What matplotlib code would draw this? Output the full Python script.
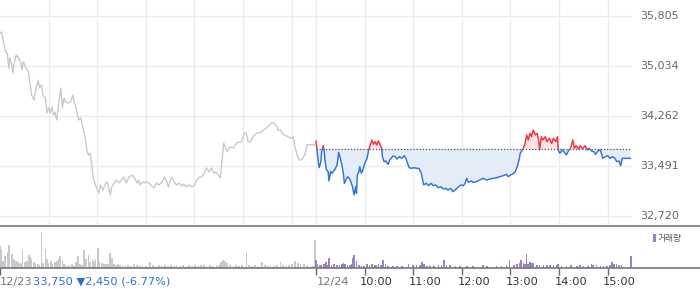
import matplotlib
matplotlib.use('Agg')
import matplotlib.pyplot as plt
import matplotlib.transforms as mtransforms
from matplotlib.lines import Line2D
from matplotlib.patches import Rectangle
import numpy as np

# ---------------- data ----------------
session_len = 390          # minutes 09:00-15:30
ref_price = 33750          # previous close (12/23)

prev_minutes = [0, 2, 5, 7, 9, 11, 12, 14, 16, 17, 20, 23, 26, 27, 29, 32, 35, 37, 39, 42,
                44, 47, 49, 51, 53, 56, 58, 60, 62, 64, 66, 68, 70, 72, 75, 77, 79, 81, 84, 87,
                90, 91, 94, 97, 100, 102, 105, 107, 109, 111, 113, 115, 117, 119, 122, 124, 127, 131, 133, 136,
                138, 141, 144, 147, 150, 153, 156, 159, 163, 166, 169, 171, 173, 176, 179, 181, 184, 187, 190, 193,
                196, 200, 203, 206, 208, 210, 212, 215, 218, 221, 224, 227, 230, 233, 237, 240, 243, 246, 249, 252,
                255, 258, 261, 264, 267, 272, 274, 276, 280, 284, 288, 292, 296, 298, 300, 302, 304, 306, 309, 313,
                317, 319, 321, 325, 329, 331, 333, 335, 338, 342, 343, 346, 348, 350, 354, 358, 360, 362, 364, 366,
                368, 370, 372, 374, 376, 379, 385, 389]
prev_prices = [35542, 35557, 35356, 35253, 35227, 34996, 35155, 35078, 34923, 35047, 35202, 35155, 35078, 34970, 35098, 35001, 34944, 34769, 34583, 34506,
               34661, 34810, 34692, 34738, 34583, 34537, 34305, 34382, 34305, 34398, 34274, 34320, 34197, 34403, 34692, 34382, 34537, 34475, 34460, 34475,
               34583, 34506, 34382, 34197, 34228, 34089, 33934, 33733, 33656, 33687, 33532, 33316, 33223, 33145, 33068, 33192, 33114, 33238, 33223, 33037,
               33161, 33223, 33269, 33223, 33269, 33316, 33223, 33316, 33346, 33300, 33223, 33269, 33192, 33238, 33223, 33238, 33223, 33176, 33145, 33223,
               33192, 33238, 33316, 33238, 33161, 33269, 33316, 33238, 33192, 33223, 33176, 33207, 33161, 33192, 33161, 33192, 33269, 33316, 33316, 33377,
               33455, 33393, 33455, 33377, 33393, 33300, 33578, 33841, 33710, 33779, 33764, 33841, 33857, 33862, 33934, 33996, 33996, 33862, 33857, 33950,
               33996, 33996, 33996, 34042, 34073, 34104, 34120, 34150, 34150, 34089, 34042, 34042, 33996, 33965, 33950, 33919, 33919, 33934, 33790, 33687,
               33609, 33578, 33578, 33625, 33650, 33815, 33815, 33810]

today_minutes = [0, 2, 3, 4, 6, 7, 9, 10, 11, 13, 15, 16, 18, 20, 21, 23, 26, 28, 30, 32,
                 34, 35, 37, 39, 41, 43, 45, 47, 49, 50, 51, 53, 54, 56, 58, 59, 61, 63, 65, 67,
                 69, 71, 73, 75, 77, 79, 81, 82, 84, 86, 89, 91, 95, 98, 100, 103, 106, 109, 111, 113,
                 115, 118, 121, 124, 127, 130, 132, 133, 136, 139, 142, 145, 148, 151, 154, 157, 160, 163, 166, 169,
                 173, 176, 179, 182, 184, 186, 188, 192, 194, 198, 202, 206, 211, 215, 219, 223, 227, 231, 235, 237,
                 240, 244, 246, 249, 251, 252, 254, 256, 258, 260, 262, 264, 266, 268, 271, 273, 275, 276, 278, 280,
                 283, 285, 288, 291, 293, 296, 298, 299, 301, 304, 306, 309, 312, 314, 317, 319, 321, 324, 326, 329,
                 332, 335, 337, 340, 343, 345, 348, 351, 354, 357, 360, 363, 366, 369, 371, 374, 376, 378, 381, 388]
today_prices = [33870, 33640, 33532, 33460, 33552, 33707, 33800, 33733, 33578, 33424, 33398, 33254, 33398, 33372, 33398, 33424, 33501, 33697, 33604, 33501,
                33346, 33218, 33269, 33321, 33295, 33243, 33166, 33037, 33166, 33063, 33346, 33398, 33475, 33372, 33424, 33475, 33552, 33604, 33733, 33810,
                33888, 33821, 33862, 33810, 33872, 33821, 33759, 33630, 33552, 33563, 33512, 33578, 33640, 33630, 33594, 33630, 33604, 33645, 33604, 33527,
                33460, 33450, 33460, 33450, 33450, 33372, 33243, 33192, 33218, 33182, 33218, 33182, 33192, 33150, 33166, 33130, 33140, 33114, 33140, 33089,
                33130, 33166, 33192, 33182, 33218, 33295, 33233, 33254, 33230, 33243, 33269, 33295, 33269, 33285, 33295, 33305, 33321, 33336, 33357, 33321,
                33346, 33372, 33398, 33501, 33604, 33682, 33718, 33759, 33836, 33965, 33888, 33991, 33939, 34042, 33965, 33991, 33862, 33733, 33939, 33888,
                33939, 33862, 33914, 33836, 33914, 33862, 33939, 33733, 33682, 33733, 33707, 33656, 33733, 33749, 33888, 33759, 33800, 33749, 33800, 33749,
                33800, 33733, 33759, 33718, 33707, 33666, 33718, 33733, 33604, 33630, 33645, 33604, 33630, 33604, 33552, 33563, 33490, 33604, 33604, 33604]

vol_prev_minutes = [0, 1, 2, 4, 6, 7, 10, 11, 14, 15, 17, 20, 22, 25, 26, 28, 31, 33, 36, 37,
                    38, 39, 42, 44, 47, 48, 51, 53, 56, 58, 60, 63, 65, 68, 70, 73, 74, 77, 79, 81,
                    84, 86, 89, 91, 94, 96, 99, 101, 104, 106, 109, 111, 114, 116, 118, 121, 123, 126, 128, 131,
                    133, 136, 138, 141, 143, 146, 148, 151, 154, 158, 162, 165, 169, 173, 176, 180, 185, 189, 193, 196,
                    200, 204, 207, 211, 215, 218, 222, 226, 230, 233, 237, 241, 244, 248, 252, 255, 259, 263, 267, 270,
                    273, 275, 278, 280, 284, 288, 291, 295, 299, 304, 307, 311, 315, 318, 323, 327, 331, 334, 338, 342,
                    346, 349, 353, 357, 360, 364, 368, 371, 375, 379, 383, 386, 389]
vol_prev = [22, 19, 10, 7, 12, 9, 16, 23, 11, 14, 9, 7, 6, 4, 5, 18, 6, 7, 13, 11,
            9, 8, 6, 4, 4, 3, 36, 5, 19, 9, 5, 7, 4, 6, 7, 9, 12, 7, 4, 3,
            2, 3, 4, 2, 6, 12, 4, 3, 18, 9, 13, 6, 9, 7, 9, 20, 6, 5, 4, 4,
            4, 15, 10, 4, 3, 4, 3, 3, 2, 3, 2, 4, 3, 2, 3, 2, 6, 3, 2, 3,
            2, 3, 2, 3, 2, 3, 2, 3, 2, 3, 2, 3, 2, 3, 3, 2, 3, 2, 3, 3,
            6, 8, 7, 5, 3, 2, 3, 2, 3, 15, 3, 2, 3, 2, 6, 3, 2, 3, 2, 3,
            6, 3, 2, 3, 4, 7, 5, 4, 4, 3, 2, 2, 28]

vol_today_minutes = [0, 2, 5, 7, 10, 12, 14, 16, 19, 22, 26, 29, 32, 34, 36, 39, 42, 44, 46, 47,
                     50, 53, 56, 59, 63, 66, 69, 72, 74, 77, 80, 83, 86, 89, 95, 100, 106, 114, 120, 124,
                     128, 131, 133, 137, 141, 146, 151, 155, 158, 161, 165, 172, 178, 186, 194, 206, 211, 223, 229, 235,
                     239, 244, 248, 251, 253, 256, 258, 260, 262, 264, 266, 268, 273, 276, 281, 285, 289, 293, 297, 299,
                     303, 309, 315, 322, 326, 330, 336, 340, 342, 346, 351, 355, 359, 363, 365, 368, 371, 374, 377, 389]
vol_today = [8, 4, 3, 3, 4, 6, 3, 10, 3, 4, 3, 3, 4, 5, 4, 3, 3, 4, 10, 13,
             7, 3, 2, 2, 4, 3, 4, 3, 3, 4, 3, 8, 4, 2, 2, 2, 2, 4, 3, 3,
             3, 6, 4, 2, 2, 2, 3, 3, 8, 3, 3, 2, 2, 2, 2, 3, 2, 2, 2, 3,
             8, 3, 4, 5, 8, 5, 4, 14, 4, 6, 5, 5, 3, 3, 3, 3, 3, 3, 3, 4,
             2, 2, 3, 2, 3, 2, 2, 4, 3, 3, 2, 2, 2, 3, 6, 4, 4, 3, 3, 12]
vol_unit = 1000  # shares per listed unit

y_ticks = [32720, 33491, 34262, 35034, 35805]
y_tick_labels = ['32,720', '33,491', '34,262', '35,034', '35,805']
time_ticks = [0, 60, 120, 180, 240, 300, 360]
time_labels = ['12/24', '10:00', '11:00', '12:00', '13:00', '14:00', '15:00']
prev_date_label = '12/23'
prev_close_label = '33,750 \u25bc2,450 (-6.77%)'
volume_label = '거래량'

assert len(prev_minutes) == len(prev_prices)
assert len(today_minutes) == len(today_prices)
assert len(vol_prev_minutes) == len(vol_prev)
assert len(vol_today_minutes) == len(vol_today)

# ---------------- style ----------------
W, H = 700, 289
GRID = '#ececec'
GRAY_LINE = '#c6c7cb'
RED = '#f5323e'
BLUE = '#3074da'
RED_FILL = '#fde3e6'
BLUE_FILL = '#e4ecf8'
VOL_GRAY = '#c8c9cc'
VOL_PURPLE = '#9a80c6'
TXT_BLUE = '#2a6fd6'

plt.rcParams['font.family'] = ['DejaVu Sans']
fig = plt.figure(figsize=(W / 100, H / 100), dpi=100)

plot_right = 632 / W
main_bottom_px = 226
vol_bottom_px = 268.3

ax = fig.add_axes([0, 1 - main_bottom_px / H, plot_right, main_bottom_px / H])
ax.set_xlim(0, 2 * session_len)
ax.set_ylim(32558, 36052)
for s in ax.spines.values():
    s.set_visible(False)
ax.set_xticks([])
ax.set_yticks([])

# grid
for yv in y_ticks:
    ax.axhline(yv, color=GRID, lw=1, zorder=0)
vgrid = [t for t in range(60, session_len, 60)] + [session_len] + [session_len + t for t in time_ticks[1:]]
for xv in vgrid:
    ax.axvline(xv, color=GRID, lw=1, zorder=0)

# previous day line
ax.plot(prev_minutes, prev_prices, color=GRAY_LINE, lw=0.95, zorder=3)

# today
tx = np.array(today_minutes, dtype=float) + session_len
tp = np.array(today_prices, dtype=float)
ax.fill_between(tx, tp, ref_price, where=tp >= ref_price, interpolate=True,
                color=RED_FILL, lw=0, zorder=1)
ax.fill_between(tx, tp, ref_price, where=tp <= ref_price, interpolate=True,
                color=BLUE_FILL, lw=0, zorder=1)
ax.plot([session_len, 2 * session_len], [ref_price, ref_price], color='#555555',
        lw=0.9, ls=(0, (1, 1.5)), zorder=2)
red_line, = ax.plot(tx, tp, color=RED, lw=1.05, zorder=4)
blue_line, = ax.plot(tx, tp, color=BLUE, lw=1.05, zorder=4)
clip_up = Rectangle((session_len - 5, ref_price), 500, 10000, transform=ax.transData)
clip_dn = Rectangle((session_len - 5, ref_price - 10000), 500, 10000, transform=ax.transData)
red_line.set_clip_path(clip_up)
blue_line.set_clip_path(clip_dn)

# right price labels
rtrans = mtransforms.blended_transform_factory(fig.transFigure, ax.transData)
for yv, lab in zip(y_ticks, y_tick_labels):
    ax.text(640 / W, yv, lab, transform=rtrans, ha='left', va='center',
            fontsize=8, color='#666666', clip_on=False)

# volume axes
axv = fig.add_axes([0, 1 - vol_bottom_px / H, plot_right, (vol_bottom_px - main_bottom_px) / H])
axv.set_xlim(0, 2 * session_len)
axv.set_ylim(0, 42.3 * vol_unit)
for s in axv.spines.values():
    s.set_visible(False)
axv.bar(vol_prev_minutes, np.array(vol_prev) * vol_unit, width=2.0, color=VOL_GRAY, lw=0, align='center')
axv.bar(np.array(vol_today_minutes) + session_len, np.array(vol_today) * vol_unit, width=2.0,
        color=VOL_PURPLE, lw=0, align='center')
axv.set_yticks([])
axv.set_xticks([0] + [session_len + t for t in time_ticks])
axv.tick_params(axis='x', direction='out', length=5, width=1, color='#666666', labelbottom=False)

# separator lines spanning full width
fig.add_artist(Line2D([0, 1], [1 - main_bottom_px / H] * 2, transform=fig.transFigure,
                      color='#909090', lw=1.5))
fig.add_artist(Line2D([0, 1], [1 - vol_bottom_px / H] * 2, transform=fig.transFigure,
                      color='#777777', lw=1.2))

# time labels
label_y = 1 - 281.7 / H
btrans = mtransforms.blended_transform_factory(axv.transData, fig.transFigure)
for t, lab in zip(time_ticks, time_labels):
    dx = 1 if t == 0 else -4.5
    tr = mtransforms.offset_copy(btrans, fig=fig, x=dx, y=0, units='dots')
    axv.text(session_len + t, label_y, lab, transform=tr, ha='left', va='center',
             fontsize=8.2, color='#777777' if t == 0 else '#333333', clip_on=False)

fig.text(0, label_y, prev_date_label, ha='left', va='center', fontsize=8.2, color='#777777')
fig.text(33 / W, label_y, prev_close_label, ha='left', va='center', fontsize=8.2, color=TXT_BLUE)

# volume legend
fig.add_artist(Rectangle((653 / W, 1 - 241.7 / H), 2.7 / W, 7.5 / H, transform=fig.transFigure,
                         color=VOL_PURPLE, lw=0))
fig.text(657.5 / W, 1 - 238 / H, volume_label, ha='left', va='center', fontsize=6.3,
         color='#555555', family=['Noto Sans CJK KR', 'DejaVu Sans'])

fig.savefig('out.png', dpi=100)
